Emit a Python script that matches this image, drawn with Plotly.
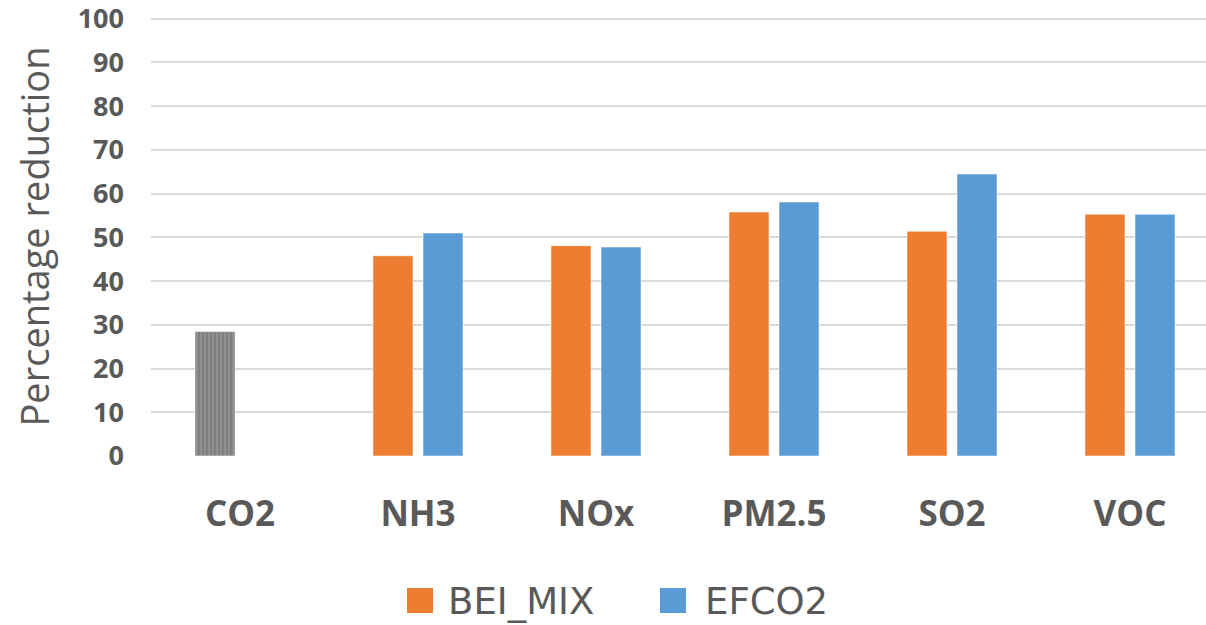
import plotly.graph_objects as go

# Pollutant categories and percentage reductions per scenario
pollutants = ["CO2", "NH3", "NOx", "PM2.5", "SO2", "VOC"]
bei_mix = [28.5, 45.8, 48.1, 55.8, 51.4, 55.3]
efco2 = [None, 51.0, 47.8, 58.1, 64.5, 55.3]
series_names = ["BEI_MIX", "EFCO2"]
y_ticks = list(range(0, 101, 10))

ORANGE = "#ED7D31"
BLUE = "#5B9BD5"
GRAY = "#7F7F7F"
TEXT = "#595959"
FONT = "Open Sans"

# CO2 has a single combined value, shown in gray with a fine stripe fill
bei_colors = [GRAY if p == "CO2" else ORANGE for p in pollutants]
bei_patterns = ["|" if p == "CO2" else "" for p in pollutants]

fig = go.Figure()
fig.add_trace(go.Bar(
    x=pollutants, y=bei_mix, name=series_names[0],
    marker=dict(color=bei_colors,
                line=dict(color="rgba(255,255,255,0.55)", width=1),
                pattern=dict(shape=bei_patterns, fillmode="overlay",
                             fgcolor="#5f5f5f", fgopacity=0.2,
                             size=4, solidity=0.3)),
))
fig.add_trace(go.Bar(
    x=pollutants, y=efco2, name=series_names[1],
    marker=dict(color=BLUE, line=dict(color="rgba(255,255,255,0.55)", width=1)),
))

W, H = 1206, 625
L, T, B = 151, 17, 169
plot_w = W - L
plot_h = H - T - B
cat_px = 178.0
y_top = 100.4

fig.update_layout(
    width=W, height=H,
    margin=dict(l=L, r=0, t=T, b=B, pad=0),
    paper_bgcolor="white", plot_bgcolor="white",
    barmode="group", bargap=0.438, bargroupgap=0.2,
    showlegend=False,
    font=dict(family=FONT, color=TEXT),
)
fig.update_xaxes(
    type="category",
    range=[-0.5, -0.5 + plot_w / cat_px],
    showgrid=False, zeroline=False, showline=False, ticks="",
    tickfont=dict(family=FONT, size=35, color=TEXT, weight="bold"),
    ticklabelstandoff=34,
)
fig.update_yaxes(
    range=[0, y_top], tickvals=y_ticks,
    showgrid=True, gridcolor="#d9d9d9", gridwidth=1.5,
    zeroline=False, showline=False, ticks="",
    tickfont=dict(family=FONT, size=27, color=TEXT, weight="bold"),
    ticklabelstandoff=26, ticklabeloverflow="allow",
    title=dict(text="Percentage reduction", standoff=16,
               font=dict(family=FONT, size=38, color=TEXT)),
)

# Legend drawn below the plot: colour squares with series names
def px_x(px):
    return (px - L) / plot_w

def px_y(py):
    return (H - B - py) / plot_h

legend_items = [
    (series_names[0], ORANGE, 407, 446),
    (series_names[1], BLUE, 660, 703),
]
for name, color, sq_x, txt_x in legend_items:
    fig.add_shape(type="rect", xref="paper", yref="paper",
                  x0=px_x(sq_x), x1=px_x(sq_x + 26),
                  y0=px_y(613), y1=px_y(588),
                  fillcolor=color, line=dict(width=0))
    fig.add_annotation(xref="paper", yref="paper",
                       x=px_x(txt_x), y=px_y(601),
                       xanchor="left", yanchor="middle", showarrow=False,
                       text=name,
                       font=dict(family="DejaVu Sans", size=37, color=TEXT))

fig.write_html("out.html")
